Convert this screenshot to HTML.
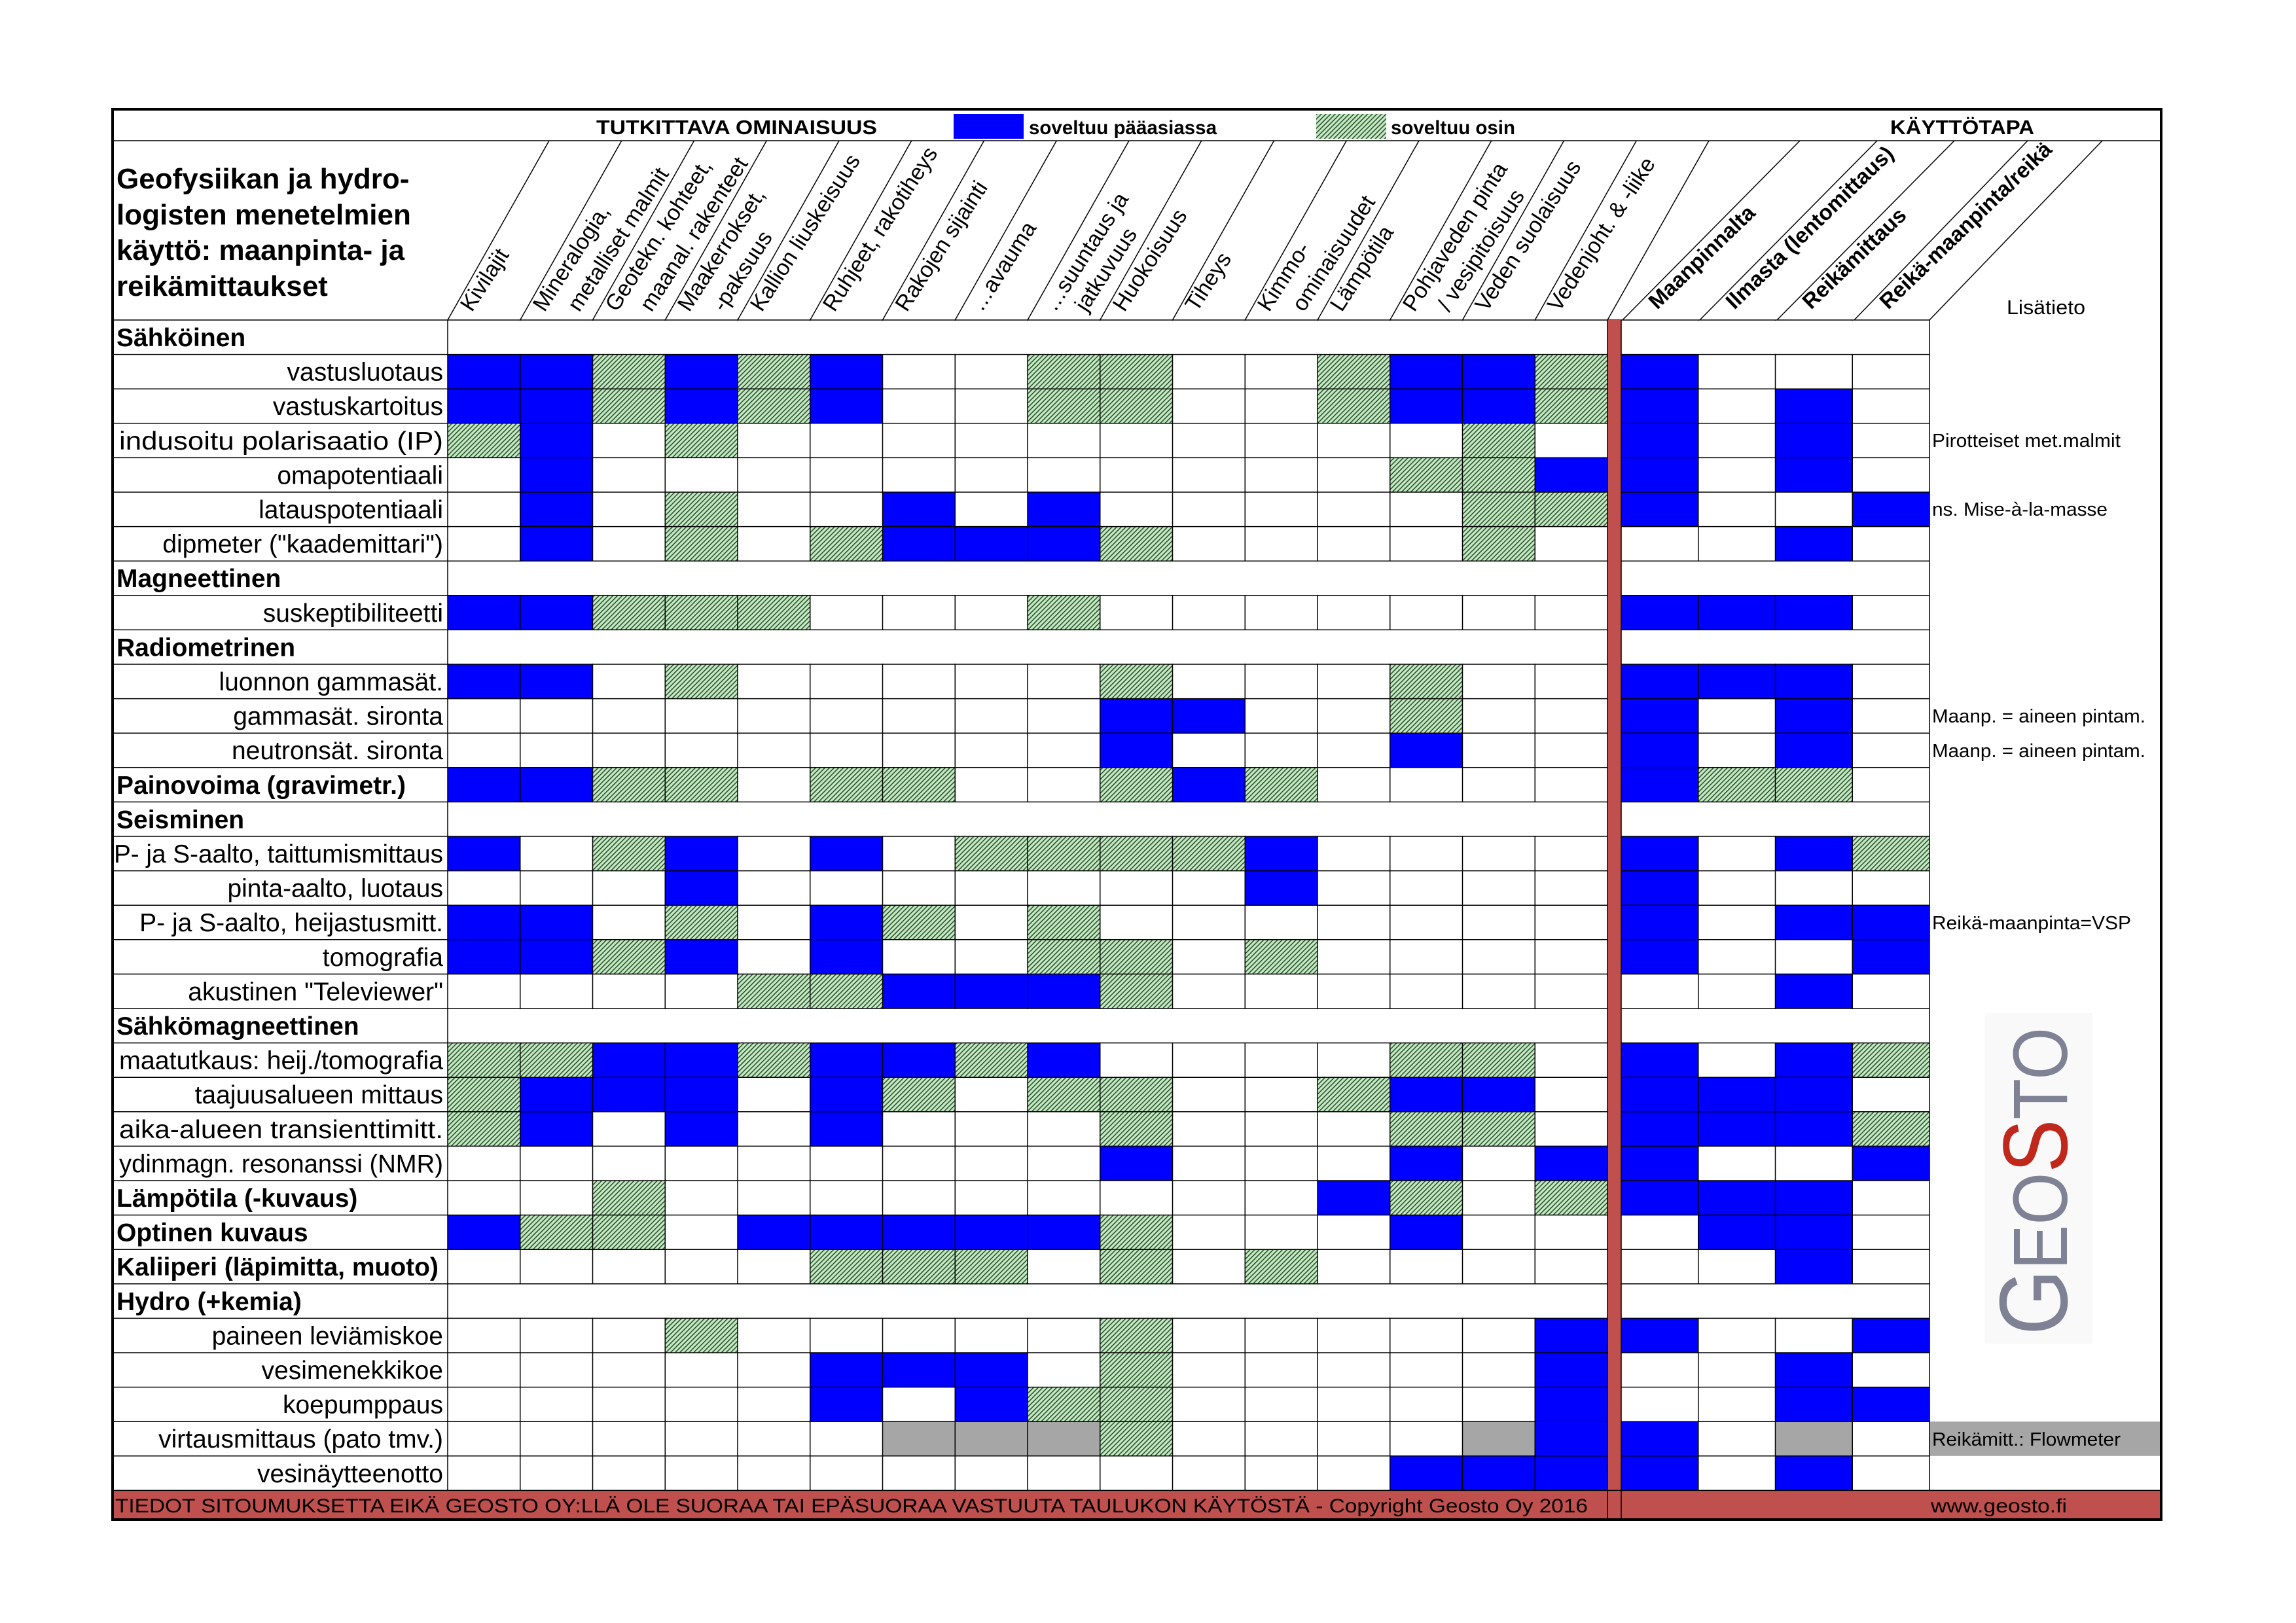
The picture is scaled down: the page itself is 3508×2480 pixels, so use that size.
<!DOCTYPE html>
<html><head><meta charset="utf-8"><style>
html,body{margin:0;padding:0;background:#fff;}
svg{display:block;}
text{font-family:"Liberation Sans",Arial,sans-serif;fill:#000;}
.b{fill:#0000ff;} .g{fill:url(#h);} .x{fill:#a6a6a6;}
.lb{font-size:39px;text-anchor:end;}
.sb{font-size:39px;font-weight:bold;}
.ph{font-size:34px;}
.mh{font-size:33px;font-weight:bold;}
.li{font-size:29px;}
</style></head><body>
<svg width="3508" height="2480" viewBox="0 0 3508 2480" xmlns="http://www.w3.org/2000/svg">
<defs>
<pattern id="h" patternUnits="userSpaceOnUse" width="5" height="5" patternTransform="rotate(45)">
<rect width="5" height="5" fill="#c4ebc4"/><rect width="1.6" height="5" fill="#2f4f2f"/>
</pattern>
</defs>
<rect width="3508" height="2480" fill="#fff"/>

<text x="911" y="205" font-size="31" font-weight="bold" textLength="429" lengthAdjust="spacingAndGlyphs">TUTKITTAVA OMINAISUUS</text>
<rect x="1457" y="174" width="107" height="38" class="b"/>
<text x="1572" y="205" font-size="30" font-weight="bold" textLength="287" lengthAdjust="spacingAndGlyphs">soveltuu pääasiassa</text>
<rect x="2011" y="174" width="107" height="38" class="g"/>
<text x="2125" y="205" font-size="30" font-weight="bold" textLength="190" lengthAdjust="spacingAndGlyphs">soveltuu osin</text>
<text x="2888" y="205" font-size="31" font-weight="bold" textLength="220" lengthAdjust="spacingAndGlyphs">KÄYTTÖTAPA</text>

<text x="178" y="288" font-size="44" font-weight="bold">Geofysiikan ja hydro-</text>
<text x="178" y="343" font-size="44" font-weight="bold">logisten menetelmien</text>
<text x="178" y="397" font-size="44" font-weight="bold">käyttö: maanpinta- ja</text>
<text x="178" y="452" font-size="44" font-weight="bold">reikämittaukset</text>

<g stroke="#000" stroke-width="1.5">
<line x1="684" y1="489" x2="839" y2="215"/>
<line x1="794.75" y1="489" x2="949.75" y2="215"/>
<line x1="905.5" y1="489" x2="1060.5" y2="215"/>
<line x1="1016.25" y1="489" x2="1171.25" y2="215"/>
<line x1="1127" y1="489" x2="1282" y2="215"/>
<line x1="1237.75" y1="489" x2="1392.75" y2="215"/>
<line x1="1348.5" y1="489" x2="1503.5" y2="215"/>
<line x1="1459.25" y1="489" x2="1614.25" y2="215"/>
<line x1="1570" y1="489" x2="1725" y2="215"/>
<line x1="1680.75" y1="489" x2="1835.75" y2="215"/>
<line x1="1791.5" y1="489" x2="1946.5" y2="215"/>
<line x1="1902.25" y1="489" x2="2057.25" y2="215"/>
<line x1="2013" y1="489" x2="2168" y2="215"/>
<line x1="2123.75" y1="489" x2="2278.75" y2="215"/>
<line x1="2234.5" y1="489" x2="2389.5" y2="215"/>
<line x1="2345.25" y1="489" x2="2500.25" y2="215"/>
<line x1="2456" y1="489" x2="2611" y2="215"/>
<line x1="2479" y1="489" x2="2750" y2="215"/>
<line x1="2597" y1="489" x2="2868" y2="215"/>
<line x1="2715" y1="489" x2="2986" y2="215"/>
<line x1="2833" y1="489" x2="3098" y2="215"/>
<line x1="2948" y1="489" x2="3212" y2="215"/>
</g>

<g class="ph">
<text class="ph" transform="translate(721,478) rotate(-57)">Kivilajit</text>
<text class="ph" transform="translate(832,478) rotate(-57)">Mineralogia,</text>
<text class="ph" transform="translate(885,478) rotate(-57)">metalliset malmit</text>
<text class="ph" transform="translate(942.5,478) rotate(-57)">Geotekn. kohteet,</text>
<text class="ph" transform="translate(995.5,478) rotate(-57)">maanal. rakenteet</text>
<text class="ph" transform="translate(1053,478) rotate(-57)">Maakerrokset,</text>
<text class="ph" transform="translate(1106,478) rotate(-57)">-paksuus</text>
<text class="ph" transform="translate(1164,478) rotate(-57)">Kallion liuskeisuus</text>
<text class="ph" transform="translate(1275,478) rotate(-57)">Ruhjeet, rakotiheys</text>
<text class="ph" transform="translate(1385.5,478) rotate(-57)">Rakojen sijainti</text>
<text class="ph" transform="translate(1500,478) rotate(-57)">…avauma</text>
<text class="ph" transform="translate(1612,478) rotate(-57)">…suuntaus ja</text>
<text class="ph" transform="translate(1660,478) rotate(-57)">jatkuvuus</text>
<text class="ph" transform="translate(1718,478) rotate(-57)">Huokoisuus</text>
<text class="ph" transform="translate(1828.5,478) rotate(-57)">Tiheys</text>
<text class="ph" transform="translate(1939,478) rotate(-57)">Kimmo-</text>
<text class="ph" transform="translate(1992,478) rotate(-57)">ominaisuudet</text>
<text class="ph" transform="translate(2050,478) rotate(-57)">Lämpötila</text>
<text class="ph" transform="translate(2161,478) rotate(-57)">Pohjaveden pinta</text>
<text class="ph" transform="translate(2214,478) rotate(-57)">/ vesipitoisuus</text>
<text class="ph" transform="translate(2271.5,478) rotate(-57)">Veden suolaisuus</text>
<text class="ph" transform="translate(2382,478) rotate(-57)">Vedenjoht. &amp; -liike</text>
</g>
<text class="mh" transform="translate(2532,474) rotate(-44)">Maanpinnalta</text>
<text class="mh" transform="translate(2650,474) rotate(-44)">Ilmasta (lentomittaus)</text>
<text class="mh" transform="translate(2767,474) rotate(-44)">Reikämittaus</text>
<text class="mh" transform="translate(2885,474) rotate(-44)">Reikä-maanpinta/reikä</text>
<text x="3066" y="480" font-size="31" textLength="120" lengthAdjust="spacingAndGlyphs">Lisätieto</text>

<g>
<rect class="b" x="684" y="541.6" width="221.5" height="52.6"/>
<rect class="g" x="905.5" y="541.6" width="110.75" height="52.6"/>
<rect class="b" x="1016.25" y="541.6" width="110.75" height="52.6"/>
<rect class="g" x="1127" y="541.6" width="110.75" height="52.6"/>
<rect class="b" x="1237.75" y="541.6" width="110.75" height="52.6"/>
<rect class="g" x="1570" y="541.6" width="221.5" height="52.6"/>
<rect class="g" x="2013" y="541.6" width="110.75" height="52.6"/>
<rect class="b" x="2123.75" y="541.6" width="221.5" height="52.6"/>
<rect class="g" x="2345.25" y="541.6" width="110.75" height="52.6"/>
<rect class="b" x="2477" y="541.6" width="117.75" height="52.6"/>
<rect class="b" x="684" y="594.2" width="221.5" height="52.6"/>
<rect class="g" x="905.5" y="594.2" width="110.75" height="52.6"/>
<rect class="b" x="1016.25" y="594.2" width="110.75" height="52.6"/>
<rect class="g" x="1127" y="594.2" width="110.75" height="52.6"/>
<rect class="b" x="1237.75" y="594.2" width="110.75" height="52.6"/>
<rect class="g" x="1570" y="594.2" width="221.5" height="52.6"/>
<rect class="g" x="2013" y="594.2" width="110.75" height="52.6"/>
<rect class="b" x="2123.75" y="594.2" width="221.5" height="52.6"/>
<rect class="g" x="2345.25" y="594.2" width="110.75" height="52.6"/>
<rect class="b" x="2477" y="594.2" width="117.75" height="52.6"/>
<rect class="b" x="2712.5" y="594.2" width="117.75" height="52.6"/>
<rect class="g" x="684" y="646.8" width="110.75" height="52.6"/>
<rect class="b" x="794.75" y="646.8" width="110.75" height="52.6"/>
<rect class="g" x="1016.25" y="646.8" width="110.75" height="52.6"/>
<rect class="g" x="2234.5" y="646.8" width="110.75" height="52.6"/>
<rect class="b" x="2477" y="646.8" width="117.75" height="52.6"/>
<rect class="b" x="2712.5" y="646.8" width="117.75" height="52.6"/>
<rect class="b" x="794.75" y="699.4" width="110.75" height="52.6"/>
<rect class="g" x="2123.75" y="699.4" width="221.5" height="52.6"/>
<rect class="b" x="2345.25" y="699.4" width="110.75" height="52.6"/>
<rect class="b" x="2477" y="699.4" width="117.75" height="52.6"/>
<rect class="b" x="2712.5" y="699.4" width="117.75" height="52.6"/>
<rect class="b" x="794.75" y="752" width="110.75" height="52.6"/>
<rect class="g" x="1016.25" y="752" width="110.75" height="52.6"/>
<rect class="b" x="1348.5" y="752" width="110.75" height="52.6"/>
<rect class="b" x="1570" y="752" width="110.75" height="52.6"/>
<rect class="g" x="2234.5" y="752" width="221.5" height="52.6"/>
<rect class="b" x="2477" y="752" width="117.75" height="52.6"/>
<rect class="b" x="2830.25" y="752" width="117.75" height="52.6"/>
<rect class="b" x="794.75" y="804.6" width="110.75" height="52.6"/>
<rect class="g" x="1016.25" y="804.6" width="110.75" height="52.6"/>
<rect class="g" x="1237.75" y="804.6" width="110.75" height="52.6"/>
<rect class="b" x="1348.5" y="804.6" width="332.25" height="52.6"/>
<rect class="g" x="1680.75" y="804.6" width="110.75" height="52.6"/>
<rect class="g" x="2234.5" y="804.6" width="110.75" height="52.6"/>
<rect class="b" x="2712.5" y="804.6" width="117.75" height="52.6"/>
<rect class="b" x="684" y="909.8" width="221.5" height="52.6"/>
<rect class="g" x="905.5" y="909.8" width="332.25" height="52.6"/>
<rect class="g" x="1570" y="909.8" width="110.75" height="52.6"/>
<rect class="b" x="2477" y="909.8" width="353.25" height="52.6"/>
<rect class="b" x="684" y="1015" width="221.5" height="52.6"/>
<rect class="g" x="1016.25" y="1015" width="110.75" height="52.6"/>
<rect class="g" x="1680.75" y="1015" width="110.75" height="52.6"/>
<rect class="g" x="2123.75" y="1015" width="110.75" height="52.6"/>
<rect class="b" x="2477" y="1015" width="353.25" height="52.6"/>
<rect class="b" x="1680.75" y="1067.6" width="221.5" height="52.6"/>
<rect class="g" x="2123.75" y="1067.6" width="110.75" height="52.6"/>
<rect class="b" x="2477" y="1067.6" width="117.75" height="52.6"/>
<rect class="b" x="2712.5" y="1067.6" width="117.75" height="52.6"/>
<rect class="b" x="1680.75" y="1120.2" width="110.75" height="52.6"/>
<rect class="b" x="2123.75" y="1120.2" width="110.75" height="52.6"/>
<rect class="b" x="2477" y="1120.2" width="117.75" height="52.6"/>
<rect class="b" x="2712.5" y="1120.2" width="117.75" height="52.6"/>
<rect class="b" x="684" y="1172.8" width="221.5" height="52.6"/>
<rect class="g" x="905.5" y="1172.8" width="221.5" height="52.6"/>
<rect class="g" x="1237.75" y="1172.8" width="221.5" height="52.6"/>
<rect class="g" x="1680.75" y="1172.8" width="110.75" height="52.6"/>
<rect class="b" x="1791.5" y="1172.8" width="110.75" height="52.6"/>
<rect class="g" x="1902.25" y="1172.8" width="110.75" height="52.6"/>
<rect class="b" x="2477" y="1172.8" width="117.75" height="52.6"/>
<rect class="g" x="2594.75" y="1172.8" width="235.5" height="52.6"/>
<rect class="b" x="684" y="1278" width="110.75" height="52.6"/>
<rect class="g" x="905.5" y="1278" width="110.75" height="52.6"/>
<rect class="b" x="1016.25" y="1278" width="110.75" height="52.6"/>
<rect class="b" x="1237.75" y="1278" width="110.75" height="52.6"/>
<rect class="g" x="1459.25" y="1278" width="443" height="52.6"/>
<rect class="b" x="1902.25" y="1278" width="110.75" height="52.6"/>
<rect class="b" x="2477" y="1278" width="117.75" height="52.6"/>
<rect class="b" x="2712.5" y="1278" width="117.75" height="52.6"/>
<rect class="g" x="2830.25" y="1278" width="117.75" height="52.6"/>
<rect class="b" x="1016.25" y="1330.6" width="110.75" height="52.6"/>
<rect class="b" x="1902.25" y="1330.6" width="110.75" height="52.6"/>
<rect class="b" x="2477" y="1330.6" width="117.75" height="52.6"/>
<rect class="b" x="684" y="1383.2" width="221.5" height="52.6"/>
<rect class="g" x="1016.25" y="1383.2" width="110.75" height="52.6"/>
<rect class="b" x="1237.75" y="1383.2" width="110.75" height="52.6"/>
<rect class="g" x="1348.5" y="1383.2" width="110.75" height="52.6"/>
<rect class="g" x="1570" y="1383.2" width="110.75" height="52.6"/>
<rect class="b" x="2477" y="1383.2" width="117.75" height="52.6"/>
<rect class="b" x="2712.5" y="1383.2" width="235.5" height="52.6"/>
<rect class="b" x="684" y="1435.8" width="221.5" height="52.6"/>
<rect class="g" x="905.5" y="1435.8" width="110.75" height="52.6"/>
<rect class="b" x="1016.25" y="1435.8" width="110.75" height="52.6"/>
<rect class="b" x="1237.75" y="1435.8" width="110.75" height="52.6"/>
<rect class="g" x="1570" y="1435.8" width="221.5" height="52.6"/>
<rect class="g" x="1902.25" y="1435.8" width="110.75" height="52.6"/>
<rect class="b" x="2477" y="1435.8" width="117.75" height="52.6"/>
<rect class="b" x="2830.25" y="1435.8" width="117.75" height="52.6"/>
<rect class="g" x="1127" y="1488.4" width="221.5" height="52.6"/>
<rect class="b" x="1348.5" y="1488.4" width="332.25" height="52.6"/>
<rect class="g" x="1680.75" y="1488.4" width="110.75" height="52.6"/>
<rect class="b" x="2712.5" y="1488.4" width="117.75" height="52.6"/>
<rect class="g" x="684" y="1593.6" width="221.5" height="52.6"/>
<rect class="b" x="905.5" y="1593.6" width="221.5" height="52.6"/>
<rect class="g" x="1127" y="1593.6" width="110.75" height="52.6"/>
<rect class="b" x="1237.75" y="1593.6" width="221.5" height="52.6"/>
<rect class="g" x="1459.25" y="1593.6" width="110.75" height="52.6"/>
<rect class="b" x="1570" y="1593.6" width="110.75" height="52.6"/>
<rect class="g" x="2123.75" y="1593.6" width="221.5" height="52.6"/>
<rect class="b" x="2477" y="1593.6" width="117.75" height="52.6"/>
<rect class="b" x="2712.5" y="1593.6" width="117.75" height="52.6"/>
<rect class="g" x="2830.25" y="1593.6" width="117.75" height="52.6"/>
<rect class="g" x="684" y="1646.2" width="110.75" height="52.6"/>
<rect class="b" x="794.75" y="1646.2" width="332.25" height="52.6"/>
<rect class="b" x="1237.75" y="1646.2" width="110.75" height="52.6"/>
<rect class="g" x="1348.5" y="1646.2" width="110.75" height="52.6"/>
<rect class="g" x="1570" y="1646.2" width="221.5" height="52.6"/>
<rect class="g" x="2013" y="1646.2" width="110.75" height="52.6"/>
<rect class="b" x="2123.75" y="1646.2" width="221.5" height="52.6"/>
<rect class="b" x="2477" y="1646.2" width="353.25" height="52.6"/>
<rect class="g" x="684" y="1698.8" width="110.75" height="52.6"/>
<rect class="b" x="794.75" y="1698.8" width="110.75" height="52.6"/>
<rect class="b" x="1016.25" y="1698.8" width="110.75" height="52.6"/>
<rect class="b" x="1237.75" y="1698.8" width="110.75" height="52.6"/>
<rect class="g" x="1680.75" y="1698.8" width="110.75" height="52.6"/>
<rect class="g" x="2123.75" y="1698.8" width="221.5" height="52.6"/>
<rect class="b" x="2477" y="1698.8" width="353.25" height="52.6"/>
<rect class="g" x="2830.25" y="1698.8" width="117.75" height="52.6"/>
<rect class="b" x="1680.75" y="1751.4" width="110.75" height="52.6"/>
<rect class="b" x="2123.75" y="1751.4" width="110.75" height="52.6"/>
<rect class="b" x="2345.25" y="1751.4" width="110.75" height="52.6"/>
<rect class="b" x="2477" y="1751.4" width="117.75" height="52.6"/>
<rect class="b" x="2830.25" y="1751.4" width="117.75" height="52.6"/>
<rect class="g" x="905.5" y="1804" width="110.75" height="52.6"/>
<rect class="b" x="2013" y="1804" width="110.75" height="52.6"/>
<rect class="g" x="2123.75" y="1804" width="110.75" height="52.6"/>
<rect class="g" x="2345.25" y="1804" width="110.75" height="52.6"/>
<rect class="b" x="2477" y="1804" width="353.25" height="52.6"/>
<rect class="b" x="684" y="1856.6" width="110.75" height="52.6"/>
<rect class="g" x="794.75" y="1856.6" width="221.5" height="52.6"/>
<rect class="b" x="1127" y="1856.6" width="553.75" height="52.6"/>
<rect class="g" x="1680.75" y="1856.6" width="110.75" height="52.6"/>
<rect class="b" x="2123.75" y="1856.6" width="110.75" height="52.6"/>
<rect class="b" x="2594.75" y="1856.6" width="235.5" height="52.6"/>
<rect class="g" x="1237.75" y="1909.2" width="332.25" height="52.6"/>
<rect class="g" x="1680.75" y="1909.2" width="110.75" height="52.6"/>
<rect class="g" x="1902.25" y="1909.2" width="110.75" height="52.6"/>
<rect class="b" x="2712.5" y="1909.2" width="117.75" height="52.6"/>
<rect class="g" x="1016.25" y="2014.4" width="110.75" height="52.6"/>
<rect class="g" x="1680.75" y="2014.4" width="110.75" height="52.6"/>
<rect class="b" x="2345.25" y="2014.4" width="110.75" height="52.6"/>
<rect class="b" x="2477" y="2014.4" width="117.75" height="52.6"/>
<rect class="b" x="2830.25" y="2014.4" width="117.75" height="52.6"/>
<rect class="b" x="1237.75" y="2067" width="332.25" height="52.6"/>
<rect class="g" x="1680.75" y="2067" width="110.75" height="52.6"/>
<rect class="b" x="2345.25" y="2067" width="110.75" height="52.6"/>
<rect class="b" x="2712.5" y="2067" width="117.75" height="52.6"/>
<rect class="b" x="1237.75" y="2119.6" width="110.75" height="52.6"/>
<rect class="b" x="1459.25" y="2119.6" width="110.75" height="52.6"/>
<rect class="g" x="1570" y="2119.6" width="221.5" height="52.6"/>
<rect class="b" x="2345.25" y="2119.6" width="110.75" height="52.6"/>
<rect class="b" x="2712.5" y="2119.6" width="235.5" height="52.6"/>
<rect class="x" x="1348.5" y="2172.2" width="332.25" height="52.6"/>
<rect class="g" x="1680.75" y="2172.2" width="110.75" height="52.6"/>
<rect class="x" x="2234.5" y="2172.2" width="110.75" height="52.6"/>
<rect class="b" x="2345.25" y="2172.2" width="110.75" height="52.6"/>
<rect class="b" x="2477" y="2172.2" width="117.75" height="52.6"/>
<rect class="x" x="2712.5" y="2172.2" width="117.75" height="52.6"/>
<rect class="x" x="2948" y="2172.2" width="354" height="52.6"/>
<rect class="b" x="2123.75" y="2224.8" width="332.25" height="52.6"/>
<rect class="b" x="2477" y="2224.8" width="117.75" height="52.6"/>
<rect class="b" x="2712.5" y="2224.8" width="117.75" height="52.6"/>
</g>

<g stroke="#000" stroke-width="1.5">
<line x1="684" y1="489" x2="684" y2="2277.4"/>
<line x1="794.75" y1="489" x2="794.75" y2="2277.4"/>
<line x1="905.5" y1="489" x2="905.5" y2="2277.4"/>
<line x1="1016.25" y1="489" x2="1016.25" y2="2277.4"/>
<line x1="1127" y1="489" x2="1127" y2="2277.4"/>
<line x1="1237.75" y1="489" x2="1237.75" y2="2277.4"/>
<line x1="1348.5" y1="489" x2="1348.5" y2="2277.4"/>
<line x1="1459.25" y1="489" x2="1459.25" y2="2277.4"/>
<line x1="1570" y1="489" x2="1570" y2="2277.4"/>
<line x1="1680.75" y1="489" x2="1680.75" y2="2277.4"/>
<line x1="1791.5" y1="489" x2="1791.5" y2="2277.4"/>
<line x1="1902.25" y1="489" x2="1902.25" y2="2277.4"/>
<line x1="2013" y1="489" x2="2013" y2="2277.4"/>
<line x1="2123.75" y1="489" x2="2123.75" y2="2277.4"/>
<line x1="2234.5" y1="489" x2="2234.5" y2="2277.4"/>
<line x1="2345.25" y1="489" x2="2345.25" y2="2277.4"/>
<line x1="2594.75" y1="489" x2="2594.75" y2="2277.4"/>
<line x1="2712.5" y1="489" x2="2712.5" y2="2277.4"/>
<line x1="2830.25" y1="489" x2="2830.25" y2="2277.4"/>
<line x1="2948" y1="489" x2="2948" y2="2277.4"/>
</g>
<g fill="#fff">
<rect x="685" y="490" width="1770" height="51"/><rect x="2478" y="490" width="469" height="51"/>
<rect x="685" y="858" width="1770" height="51"/><rect x="2478" y="858" width="469" height="51"/>
<rect x="685" y="963" width="1770" height="51"/><rect x="2478" y="963" width="469" height="51"/>
<rect x="685" y="1226" width="1770" height="51"/><rect x="2478" y="1226" width="469" height="51"/>
<rect x="685" y="1542" width="1770" height="51"/><rect x="2478" y="1542" width="469" height="51"/>
<rect x="685" y="1962.5" width="1770" height="51"/><rect x="2478" y="1962.5" width="469" height="51"/>
</g>
<g stroke="#000" stroke-width="1.5">
<line x1="172" y1="489" x2="2948" y2="489"/>
<line x1="172" y1="541.6" x2="2948" y2="541.6"/>
<line x1="172" y1="594.2" x2="2948" y2="594.2"/>
<line x1="172" y1="646.8" x2="2948" y2="646.8"/>
<line x1="172" y1="699.4" x2="2948" y2="699.4"/>
<line x1="172" y1="752" x2="2948" y2="752"/>
<line x1="172" y1="804.6" x2="2948" y2="804.6"/>
<line x1="172" y1="857.2" x2="2948" y2="857.2"/>
<line x1="172" y1="909.8" x2="2948" y2="909.8"/>
<line x1="172" y1="962.4" x2="2948" y2="962.4"/>
<line x1="172" y1="1015" x2="2948" y2="1015"/>
<line x1="172" y1="1067.6" x2="2948" y2="1067.6"/>
<line x1="172" y1="1120.2" x2="2948" y2="1120.2"/>
<line x1="172" y1="1172.8" x2="2948" y2="1172.8"/>
<line x1="172" y1="1225.4" x2="2948" y2="1225.4"/>
<line x1="172" y1="1278" x2="2948" y2="1278"/>
<line x1="172" y1="1330.6" x2="2948" y2="1330.6"/>
<line x1="172" y1="1383.2" x2="2948" y2="1383.2"/>
<line x1="172" y1="1435.8" x2="2948" y2="1435.8"/>
<line x1="172" y1="1488.4" x2="2948" y2="1488.4"/>
<line x1="172" y1="1541" x2="2948" y2="1541"/>
<line x1="172" y1="1593.6" x2="2948" y2="1593.6"/>
<line x1="172" y1="1646.2" x2="2948" y2="1646.2"/>
<line x1="172" y1="1698.8" x2="2948" y2="1698.8"/>
<line x1="172" y1="1751.4" x2="2948" y2="1751.4"/>
<line x1="172" y1="1804" x2="2948" y2="1804"/>
<line x1="172" y1="1856.6" x2="2948" y2="1856.6"/>
<line x1="172" y1="1909.2" x2="2948" y2="1909.2"/>
<line x1="172" y1="1961.8" x2="2948" y2="1961.8"/>
<line x1="172" y1="2014.4" x2="2948" y2="2014.4"/>
<line x1="172" y1="2067" x2="2948" y2="2067"/>
<line x1="172" y1="2119.6" x2="2948" y2="2119.6"/>
<line x1="172" y1="2172.2" x2="2948" y2="2172.2"/>
<line x1="172" y1="2224.8" x2="2948" y2="2224.8"/>
<line x1="172" y1="215" x2="3302" y2="215"/>
</g>

<text class="sb" x="178" y="529">Sähköinen</text>
<text class="lb" x="677" y="581.6">vastusluotaus</text>
<text class="lb" x="677" y="634.2">vastuskartoitus</text>
<text class="lb" x="677" y="686.8" textLength="495" lengthAdjust="spacingAndGlyphs">indusoitu polarisaatio (IP)</text>
<text class="lb" x="677" y="739.4">omapotentiaali</text>
<text class="lb" x="677" y="792">latauspotentiaali</text>
<text class="lb" x="677" y="844.6">dipmeter ("kaademittari")</text>
<text class="sb" x="178" y="897.2">Magneettinen</text>
<text class="lb" x="677" y="949.8">suskeptibiliteetti</text>
<text class="sb" x="178" y="1002.4">Radiometrinen</text>
<text class="lb" x="677" y="1055">luonnon gammasät.</text>
<text class="lb" x="677" y="1107.6">gammasät. sironta</text>
<text class="lb" x="677" y="1160.2">neutronsät. sironta</text>
<text class="sb" x="178" y="1212.8" textLength="442" lengthAdjust="spacingAndGlyphs">Painovoima (gravimetr.)</text>
<text class="sb" x="178" y="1265.4">Seisminen</text>
<text class="lb" x="677" y="1318" textLength="503" lengthAdjust="spacingAndGlyphs">P- ja S-aalto, taittumismittaus</text>
<text class="lb" x="677" y="1370.6">pinta-aalto, luotaus</text>
<text class="lb" x="677" y="1423.2">P- ja S-aalto, heijastusmitt.</text>
<text class="lb" x="677" y="1475.8">tomografia</text>
<text class="lb" x="677" y="1528.4">akustinen "Televiewer"</text>
<text class="sb" x="178" y="1581">Sähkömagneettinen</text>
<text class="lb" x="677" y="1633.6" textLength="495" lengthAdjust="spacingAndGlyphs">maatutkaus: heij./tomografia</text>
<text class="lb" x="677" y="1686.2">taajuusalueen mittaus</text>
<text class="lb" x="677" y="1738.8" textLength="495" lengthAdjust="spacingAndGlyphs">aika-alueen transienttimitt.</text>
<text class="lb" x="677" y="1791.4" textLength="495" lengthAdjust="spacingAndGlyphs">ydinmagn. resonanssi (NMR)</text>
<text class="sb" x="178" y="1844">Lämpötila (-kuvaus)</text>
<text class="sb" x="178" y="1896.6">Optinen kuvaus</text>
<text class="sb" x="178" y="1949.2" textLength="492" lengthAdjust="spacingAndGlyphs">Kaliiperi (läpimitta, muoto)</text>
<text class="sb" x="178" y="2001.8">Hydro (+kemia)</text>
<text class="lb" x="677" y="2054.4">paineen leviämiskoe</text>
<text class="lb" x="677" y="2107">vesimenekkikoe</text>
<text class="lb" x="677" y="2159.6">koepumppaus</text>
<text class="lb" x="677" y="2212.2">virtausmittaus (pato tmv.)</text>
<text class="lb" x="677" y="2264.8">vesinäytteenotto</text>

<text class="li" x="2952" y="683" textLength="288" lengthAdjust="spacingAndGlyphs">Pirotteiset met.malmit</text>
<text class="li" x="2952" y="788" textLength="268" lengthAdjust="spacingAndGlyphs">ns. Mise-à-la-masse</text>
<text class="li" x="2952" y="1104" textLength="326" lengthAdjust="spacingAndGlyphs">Maanp. = aineen pintam.</text>
<text class="li" x="2952" y="1157" textLength="326" lengthAdjust="spacingAndGlyphs">Maanp. = aineen pintam.</text>
<text class="li" x="2952" y="1420" textLength="304" lengthAdjust="spacingAndGlyphs">Reikä-maanpinta=VSP</text>
<text class="li" x="2952" y="2209" textLength="288" lengthAdjust="spacingAndGlyphs">Reikämitt.: Flowmeter</text>

<rect x="3032" y="1548" width="165" height="505" fill="#f9f9f9"/>
<text transform="translate(3158,2040) rotate(-90)" font-size="140" style="fill:#7f8194" textLength="470" lengthAdjust="spacingAndGlyphs"><tspan font-size="148">G</tspan><tspan font-size="118">EO</tspan><tspan font-size="140" style="fill:#c0281c">S</tspan><tspan font-size="118">TO</tspan></text>

<rect x="172" y="2277.4" width="3130" height="43" fill="#c0504d"/>
<rect x="2456" y="489" width="21" height="1832" fill="#c0504d"/>
<g stroke="#000" stroke-width="1.5">
<line x1="2456" y1="489" x2="2456" y2="2321"/>
<line x1="2477" y1="489" x2="2477" y2="2321"/>
<line x1="172" y1="2277.4" x2="3302" y2="2277.4"/>
</g>
<text x="176" y="2311" font-size="30" textLength="2250" lengthAdjust="spacingAndGlyphs">TIEDOT SITOUMUKSETTA EIKÄ GEOSTO OY:LLÄ OLE SUORAA TAI EPÄSUORAA VASTUUTA TAULUKON KÄYTÖSTÄ  -  Copyright Geosto Oy 2016</text>
<text x="2950" y="2311" font-size="30" textLength="208" lengthAdjust="spacingAndGlyphs">www.geosto.fi</text>

<rect x="172" y="167" width="3130" height="2155" fill="none" stroke="#000" stroke-width="4"/>
</svg>
</body></html>
